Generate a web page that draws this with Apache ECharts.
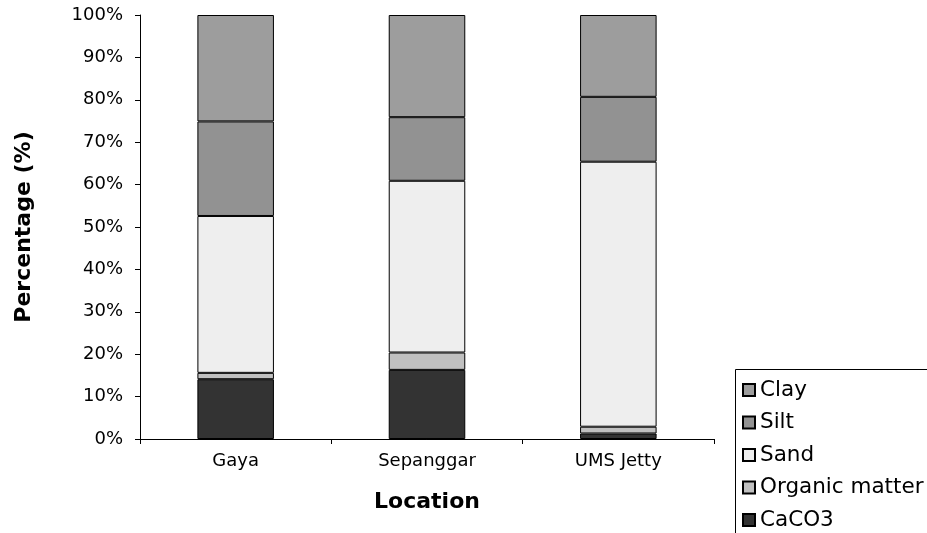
<!DOCTYPE html>
<html>
<head>
<meta charset="utf-8">
<script src="https://cdn.jsdelivr.net/npm/echarts@6/dist/echarts.min.js"></script>
<style>
  html, body { margin: 0; padding: 0; background: #fff; }
  #chart { width: 927px; height: 533px; }
</style>
</head>
<body>
<div id="chart"></div>
<script>
// Sediment composition by sampling location (percent of total)
const locations = ['Gaya', 'Sepanggar', 'UMS Jetty'];
const caco3     = [14.1, 16.3, 1.3];
const organic   = [1.5, 4.1, 1.6];
const sand      = [37.0, 40.5, 62.5];
const silt      = [22.3, 15.0, 15.3];
const clay      = [25.1, 24.1, 19.3];
const legendOrder = ['Clay', 'Silt', 'Sand', 'Organic matter', 'CaCO3'];

const FONT = 'DejaVu Sans';

function layer(name, data, color) {
  return {
    name: name,
    type: 'bar',
    stack: 'total',
    data: data,
    barWidth: '40%',
    itemStyle: { color: color, borderColor: '#000', borderWidth: 1 },
    emphasis: { disabled: true }
  };
}

const chart = echarts.init(document.getElementById('chart'));
chart.setOption({
  animation: false,
  textStyle: { fontFamily: FONT },
  grid: { left: 140, right: 213, top: 15, bottom: 94 },
  legend: {
    data: legendOrder,
    orient: 'vertical',
    left: 742,
    top: 379,
    height: 400,
    padding: 0,
    itemGap: 10.5,
    itemWidth: 12,
    itemHeight: 12,
    icon: 'rect',
    textStyle: { fontFamily: FONT, fontSize: 21.5, color: '#000', lineHeight: 20, height: 20 }
  },
  graphic: [{
    type: 'rect',
    shape: { x: 735.5, y: 369.5, width: 300, height: 200 },
    style: { fill: 'none', stroke: '#000', lineWidth: 1 },
    silent: true
  }],
  xAxis: {
    type: 'category',
    data: locations,
    name: 'Location',
    nameLocation: 'middle',
    nameGap: 52,
    nameTextStyle: { fontFamily: FONT, fontSize: 22, fontWeight: 'bold', color: '#000' },
    axisLine: { lineStyle: { color: '#000', width: 1 } },
    axisTick: { show: true, length: 5, lineStyle: { color: '#000' } },
    axisLabel: { fontFamily: FONT, fontSize: 18, color: '#000', margin: 13 }
  },
  yAxis: {
    type: 'value',
    min: 0,
    max: 100,
    interval: 10,
    name: 'Percentage (%)',
    nameLocation: 'middle',
    nameGap: 105,
    nameTextStyle: { fontFamily: FONT, fontSize: 22, fontWeight: 'bold', color: '#000' },
    axisLine: { show: true, lineStyle: { color: '#000', width: 1 } },
    axisTick: { show: true, length: 5, lineStyle: { color: '#000' } },
    axisLabel: { fontFamily: FONT, fontSize: 18, color: '#000', margin: 17, formatter: '{value}%' },
    splitLine: { show: false }
  },
  series: [
    layer('CaCO3', caco3, '#333333'),
    layer('Organic matter', organic, '#c0c0c0'),
    layer('Sand', sand, '#eeeeee'),
    layer('Silt', silt, '#929292'),
    layer('Clay', clay, '#9d9d9d')
  ]
});
</script>
</body>
</html>
